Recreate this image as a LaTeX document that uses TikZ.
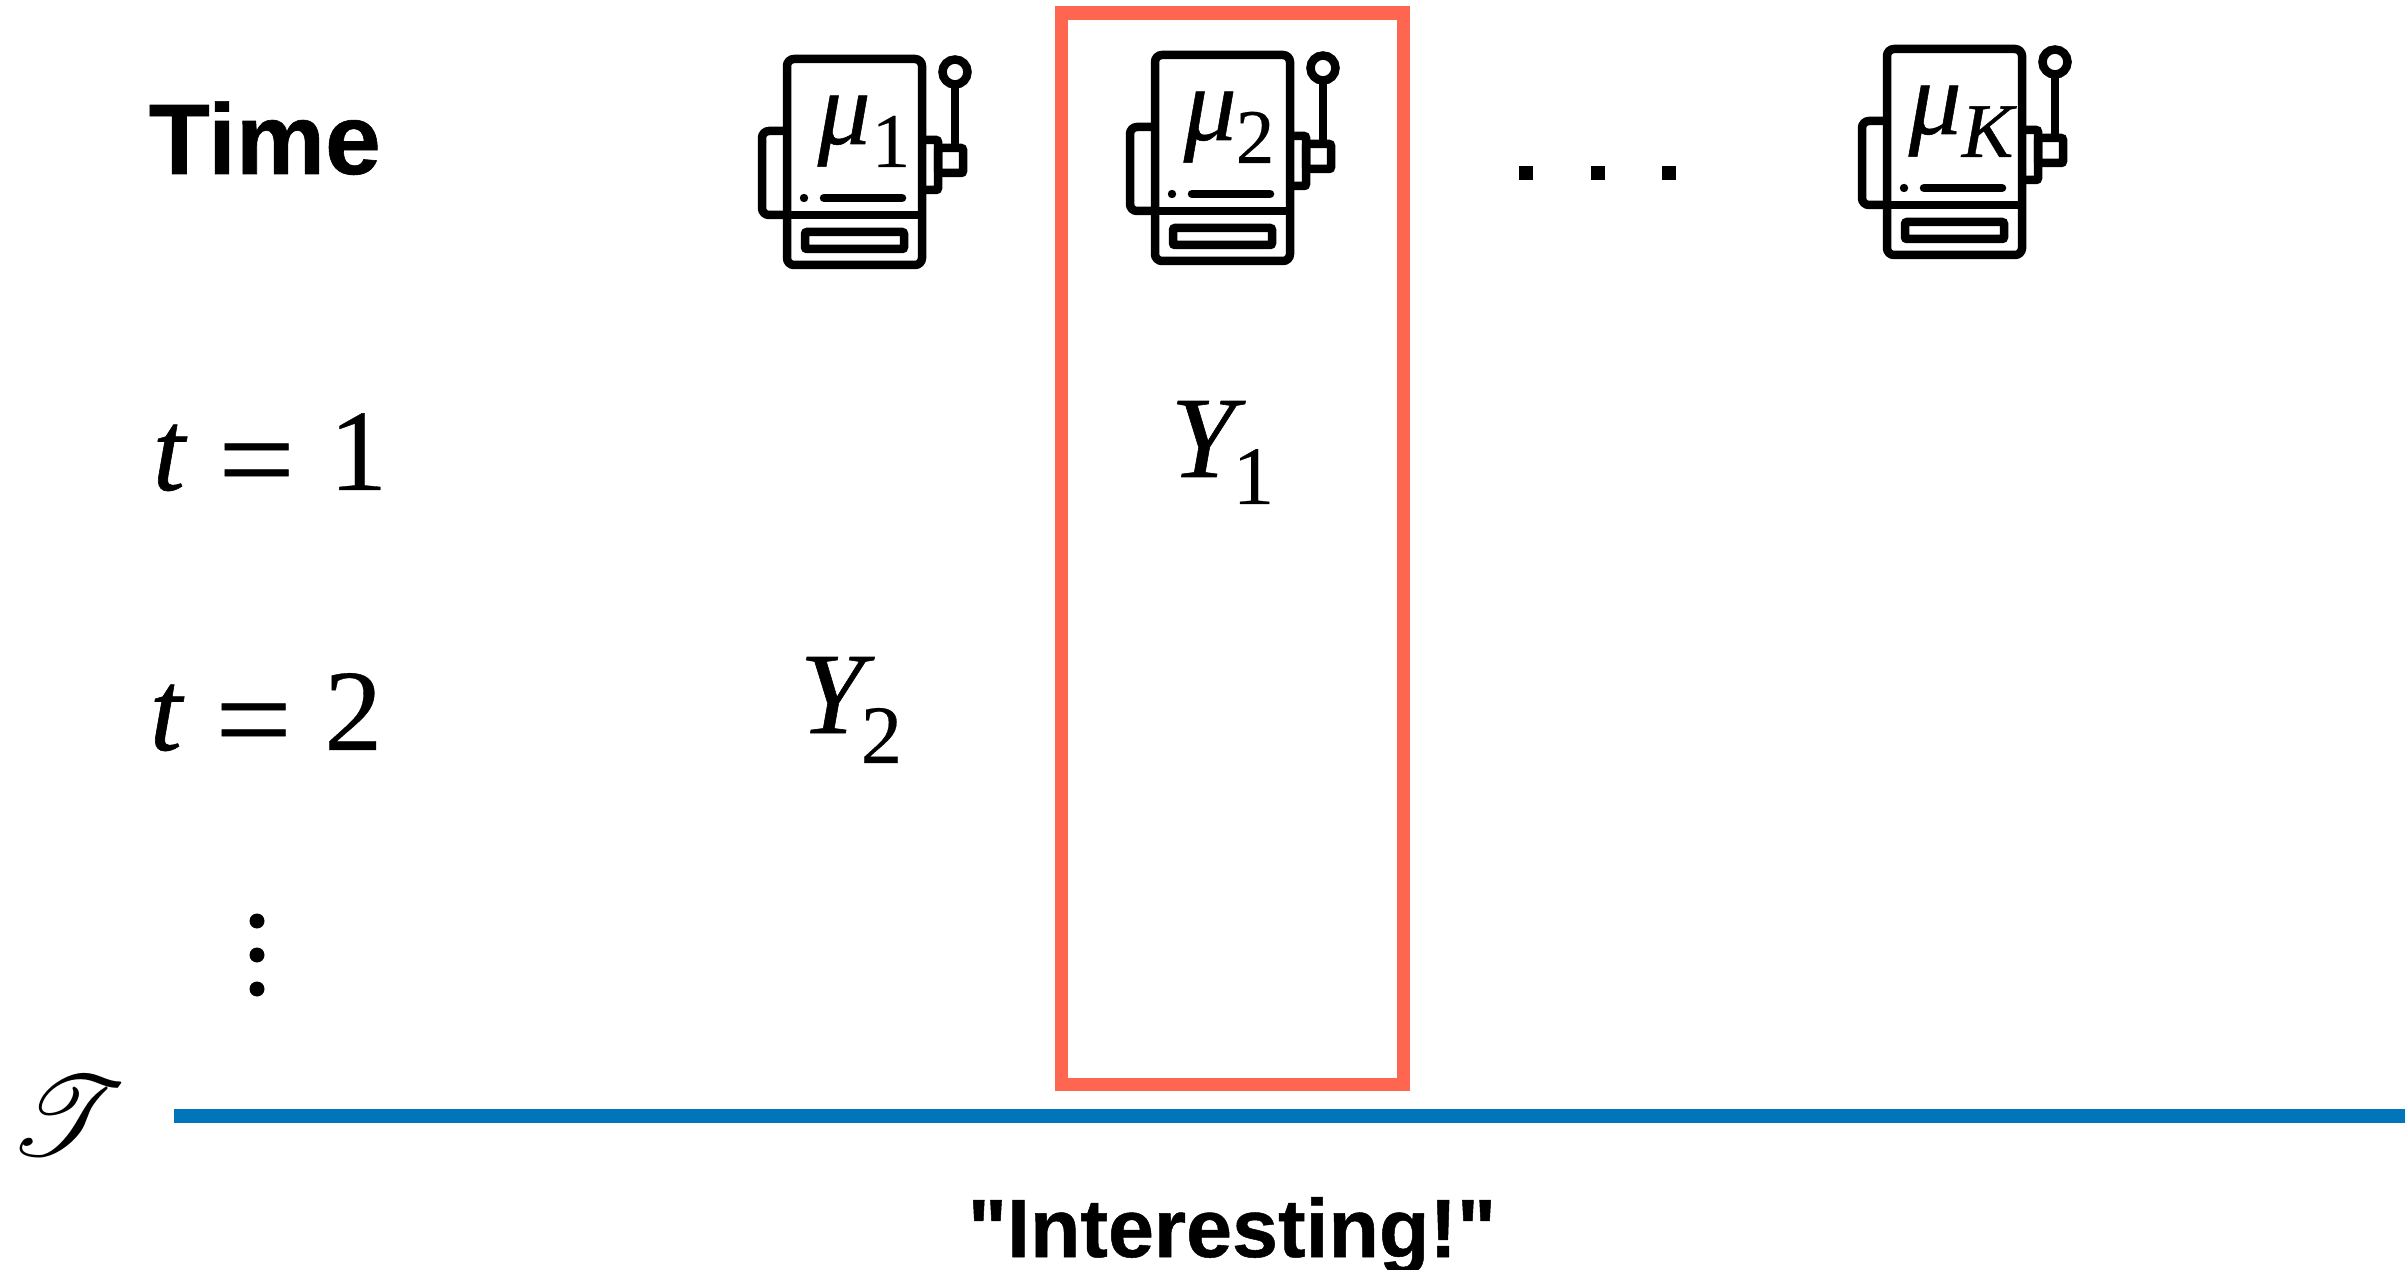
\documentclass[tikz,border=0pt]{standalone}
\usepackage{graphicx}
\usepackage{fontspec}
\usepackage{mathrsfs}
\setmainfont{Liberation Serif}[UprightFeatures={FakeBold=0.3},ItalicFeatures={FakeBold=0.5}]
\newfontfamily\headsans[UprightFont=* Bold,FakeBold=0.6]{Liberation Sans}
\usetikzlibrary{positioning}
\definecolor{pickred}{HTML}{FF6650}
\definecolor{lineblue}{HTML}{0075BA}
\newcommand{\bigeq}{\raisebox{-0.13cm}{\scalebox{1.18}[1.12]{=}}}
\tikzset{
  lbl/.style={inner sep=0pt, anchor=base west},
  rowlbl/.style={lbl, font=\fontsize{33}{36}\selectfont},
  reward/.style={lbl, font=\fontsize{33}{36}\selectfont\itshape},
  rewardsub/.style={lbl, font=\fontsize{23.6}{26}\selectfont},
  headlbl/.style={lbl, font=\fontsize{28.5}{32}\selectfont\headsans},
  machline/.style={draw=black, line width=0.085cm, rounded corners=0.07cm},
  machbox/.style={draw=black, line width=0.085cm, rounded corners=0.02cm},
  pickbox/.style={draw=pickred, line width=0.135cm, minimum width=3.42cm, minimum height=10.705cm, inner sep=0pt},
  pics/slotmach/.style n args={3}{code={
    % body, side panel, lever
    \draw[machline] (0,0) rectangle (135,206);
    \draw[line width=0.085cm] (0,156) -- (135,156);
    \draw[machline] (0,72) -- (-25,72) -- (-25,156) -- (0,156);
    \draw[machbox] (135,81) -- (151,81) -- (151,131) -- (135,131);
    \draw[machbox] (151,89) rectangle (176,114);
    \draw[line width=0.085cm] (168,89) -- (168,25.5);
    \draw[line width=0.085cm] (168,13) circle (12.5);
    % display
    \fill (17,139) circle (4.2);
    \draw[line width=0.085cm, line cap=round] (37,139) -- (115,139);
    \draw[machbox] (18,173) rectangle (117,190);
    \node[lbl, font=\fontsize{30}{32}\selectfont\itshape] (-mu) at (#1,85) {μ};
    \node[lbl, font=\fontsize{22}{24}\selectfont] (-sub) at (#2,108) {#3};
  }}
}
\begin{document}
\begin{tikzpicture}[x=0.01cm,y=-0.01cm]
\useasboundingbox (0,0) rectangle (2405,1270);

%% Selected arm
\node[pickbox] (pick) at (1232.5,548.7) {};

%% Arms
\pic (m1) at (787,59) {slotmach={30}{84}{1}};
\pic (m2) at (1155,55) {slotmach={28}{80}{2}};
\pic (mk) at (1887,49) {slotmach={21}{74}{\itshape K}};
\foreach \dx in {1519,1591,1662}
  \fill (\dx,166) rectangle ++(14,14);

%% Rows
\node[headlbl] (time) at (148,174) {Time};
\node[rowlbl] (row1) at (152,490) {\itshape t\upshape\hspace{0.33cm}\bigeq\hspace{0.34cm}1};
\node[rowlbl] (row2) at (149,750) {\itshape t\upshape\hspace{0.33cm}\bigeq\hspace{0.32cm}2};
\foreach \dy in {921,955,989}
  \fill (257,\dy) circle (7.5);

%% Rewards
\node[reward] (y1) at (1170,477) {Y};
\node[rewardsub] (y1sub) at (1232,504) {1};
\node[reward] (y2) at (799,733) {Y};
\node[rewardsub] (y2sub) at (860,763) {2};

%% Horizon
\node[inner sep=0pt] (horizon) at (68,1116) {\scalebox{1.29}{\fontsize{30}{34}\selectfont$\mathscr{T}$}};
\coordinate (linestart) at (174,1116);
\coordinate (lineend) at (2405,1116);
\draw[lineblue, line width=0.14cm] (linestart) -- (lineend);

\node[inner sep=0pt, anchor=base, font=\fontsize{23.5}{26}\selectfont\headsans] (verdict) at (1232,1257) {"Interesting!"};

\end{tikzpicture}
\end{document}
